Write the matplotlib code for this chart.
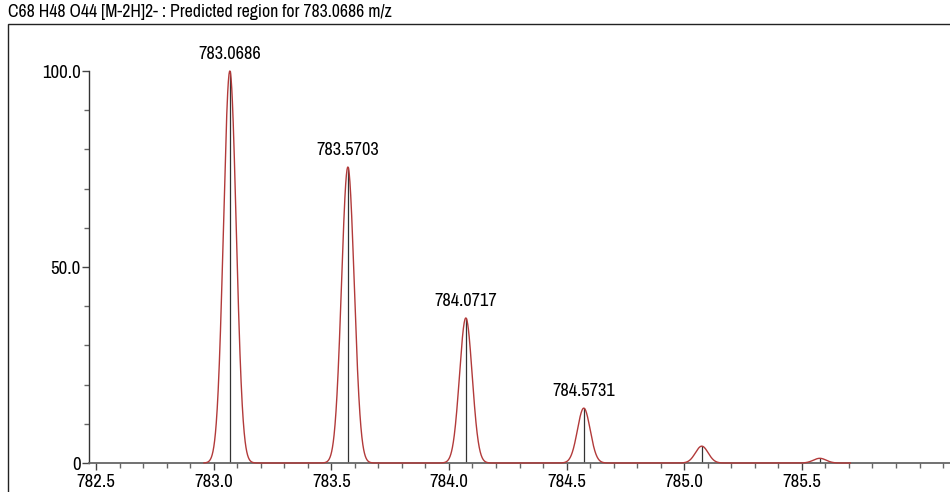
import os
import numpy as np
import matplotlib
matplotlib.use("Agg")
import matplotlib.pyplot as plt
from matplotlib.patches import Rectangle
from matplotlib.ticker import MultipleLocator, FixedLocator
from matplotlib import font_manager

# ---- data ----
peak_mz = [783.0686, 783.5703, 784.0717, 784.5731, 785.0745, 785.5760]
peak_int = [100.0, 75.5, 37.0, 14.0, 4.3, 1.2]
labelled = [True, True, True, True, False, False]
title = "C68 H48 O44 [M-2H]2- : Predicted region for 783.0686 m/z"
x_ticks = [782.5, 783.0, 783.5, 784.0, 784.5, 785.0, 785.5]
x_tick_labels = ["782.5", "783.0", "783.5", "784.0", "784.5", "785.0", "785.5"]
y_ticks = [0, 50, 100]
y_tick_labels = ["0", "50.0", "100.0"]
peak_sigma = 0.027

# pick a narrow font if one exists
entries = font_manager.fontManager.ttflist
chosen = None
for test in (lambda e: e.name == "Liberation Sans Narrow" and e.weight in (400, "normal") and e.style == "normal",
             lambda e: "narrow" in os.path.basename(e.fname).lower() and "bold" not in e.fname.lower() and "italic" not in e.fname.lower(),
             lambda e: "robotocondensed-regular" in os.path.basename(e.fname).lower(),
             lambda e: os.path.basename(e.fname) == "DejaVuSansCondensed.ttf",
             lambda e: "condensed" in os.path.basename(e.fname).lower() and "bold" not in e.fname.lower() and "italic" not in e.fname.lower() and "light" not in e.fname.lower()):
    for e in entries:
        try:
            if test(e):
                chosen = e.fname
                break
        except Exception:
            pass
    if chosen:
        break

def fp(size):
    if chosen:
        return font_manager.FontProperties(fname=chosen, size=size)
    return font_manager.FontProperties(family="Liberation Sans", size=size * 0.9)

W, H = 950, 492
fig = plt.figure(figsize=(W / 100, H / 100), dpi=100)
ax = fig.add_axes([89 / W, 1 - 463 / H, (W - 89) / W + 0.01, (463 - 71) / H])

# profile
x = np.linspace(peak_mz[0] - 0.11, peak_mz[-1] + 0.13, 4000)
y = np.zeros_like(x)
for m, i in zip(peak_mz, peak_int):
    y += i * np.exp(-0.5 * ((x - m) / peak_sigma) ** 2)
ax.plot(x, y, color="#b23a3a", lw=1.0, zorder=3, clip_on=False)

# sticks
ax.vlines(peak_mz, 0, peak_int, color="#333333", lw=0.9, zorder=2)

for m, i, lab in zip(peak_mz, peak_int, labelled):
    if lab:
        ax.text(m, i + 2.3, f"{m:.4f}", ha="center", va="bottom",
                fontproperties=fp(13.2), clip_on=False)

ax.set_xlim(782.470, 786.17)
ax.set_ylim(0, 100)
for s in ["top", "right"]:
    ax.spines[s].set_visible(False)
ax.spines["left"].set_color("#333333")
ax.spines["bottom"].set_color("#666666")
ax.spines["left"].set_linewidth(1.0)
ax.spines["bottom"].set_linewidth(1.3)

ax.xaxis.set_major_locator(FixedLocator(x_ticks))
ax.set_xticklabels(x_tick_labels, fontproperties=fp(13.5))
ax.xaxis.set_minor_locator(MultipleLocator(0.1))
ax.yaxis.set_major_locator(FixedLocator(y_ticks))
ax.set_yticklabels(y_tick_labels, fontproperties=fp(13.5))
ax.yaxis.set_minor_locator(MultipleLocator(10))
ax.tick_params(axis="both", which="major", length=5, width=1, color="#444444")
ax.tick_params(axis="x", which="major", pad=3)
ax.tick_params(axis="y", which="major", pad=1)
ax.tick_params(axis="both", which="minor", length=3.5, width=1, color="#666666")

# outer frame
fig.patches.append(Rectangle((8 / W, -0.1), 1.2, 1 - 24 / H + 0.1,
                             transform=fig.transFigure, fill=False,
                             edgecolor="#222222", lw=1.0))
fig.text(8 / W, 1 - 12 / H, title, ha="left", va="center", fontproperties=fp(12.8))

fig.savefig("out.png", dpi=100)
